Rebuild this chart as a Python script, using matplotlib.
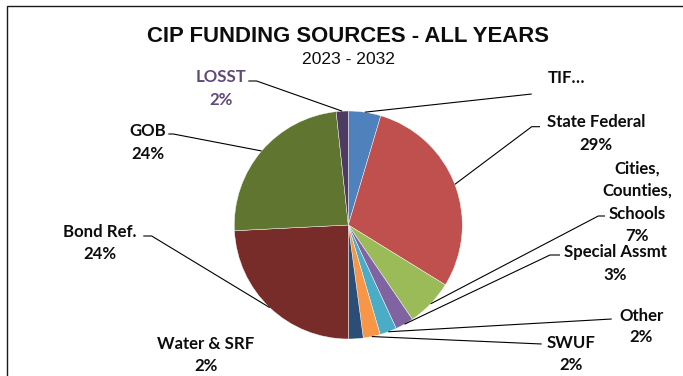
import numpy as np
import matplotlib
matplotlib.use("Agg")
import matplotlib.pyplot as plt
from matplotlib.patches import Rectangle

# data (share of total funding, %, read clockwise from 12 o'clock)
sources = ["TIF", "State Federal", "Cities, Counties, Schools", "Special Assmt",
           "Other", "SWUF", "Water & SRF", "Bond Ref.", "GOB", "LOSST"]
shares = [4.6, 29.2, 6.7, 2.6, 2.4, 2.4, 2.1, 24.2, 24.1, 1.7]
label_texts = ["TIF…", "State Federal\n29%", "Cities,\nCounties,\nSchools\n7%",
               "Special Assmt\n3%", "Other\n2%", "SWUF\n2%", "Water & SRF\n2%",
               "Bond Ref.\n24%", "GOB\n24%", "LOSST\n2%"]
colors = ["#4F81BD", "#C0504D", "#9BBB59", "#8064A2", "#4BACC6",
          "#F79646", "#2C4D75", "#772C2A", "#5F7530", "#4D3B62"]

W, H = 683, 376
CX, CY, R = 348.3, 225, 114   # pie centre / radius, pixels from top-left

# label layout: x centre, first baseline (pixels from top)
label_pos = [(566, 83.3), (596, 127.3), (637.5, 173.3), (615, 256.7),
             (641, 321), (571.5, 348.3), (206, 349.3), (100, 236.7),
             (147.5, 136), (221, 82.3)]
line_step = [22.5, 22.7, 22.7, 22.8, 20.7, 21.7, 21.5, 22.6, 23.4, 22.7]
# leader line start (and elbow) points near the label, None = no leader
leaders = [[(531.7, 94)],
           [(540, 126.7), (531.7, 126.7)],
           [(605, 216), (598.3, 216)],
           [(560, 255), (550, 255)],
           [(611.7, 319)],
           [(541.7, 344)],
           None,
           [(143.3, 236), (151.7, 236)],
           [(168.3, 134), (173.3, 134)],
           [(248.3, 81), (256.7, 81)]]


def Y(py):
    return H - py


fig = plt.figure(figsize=(W / 100, H / 100), dpi=100)
ax = fig.add_axes([0, 0, 1, 1])

wedges, _ = ax.pie(shares, colors=colors, startangle=90, counterclock=False,
                   center=(CX, Y(CY)), radius=R,
                   wedgeprops=dict(edgecolor="white", linewidth=0.3))
ax.set_xlim(0, W)
ax.set_ylim(0, H)
ax.set_aspect("equal")
ax.axis("off")

# chart border (runs off the right and bottom of the picture)
ax.add_patch(Rectangle((6.5, -20), W + 20, Y(5.7) + 20, fill=False,
                       edgecolor="#1a1a1a", linewidth=1.0, clip_on=False))

ax.text(348, Y(41.7), "CIP FUNDING SOURCES - ALL YEARS", ha="center",
        va="baseline", fontsize=15.9, fontweight="bold",
        family="Liberation Sans", color="#0d0d0d")
ax.text(348.3, Y(64), "2023 - 2032", ha="center", va="baseline",
        fontsize=12.6, family="Liberation Sans", color="#0d0d0d")

for w, txt, (lx, ly), step, lead, src in zip(wedges, label_texts, label_pos,
                                             line_step, leaders, sources):
    tc = "#5F497A" if src == "LOSST" else "#0d0d0d"
    for i, line in enumerate(txt.split("\n")):
        ax.text(lx, Y(ly + i * step), line, ha="center", va="baseline",
                fontsize=12.1, fontweight="bold", family="Lato", color=tc)
    if lead is None:
        continue
    mid = np.deg2rad((w.theta1 + w.theta2) / 2)
    ex = CX + R * np.cos(mid)
    ey = Y(CY) + R * np.sin(mid)
    xs = [p[0] for p in lead] + [ex]
    ys = [Y(p[1]) for p in lead] + [ey]
    ax.plot(xs, ys, color="black", linewidth=0.8, solid_capstyle="butt")

fig.savefig("out.png", dpi=100)
